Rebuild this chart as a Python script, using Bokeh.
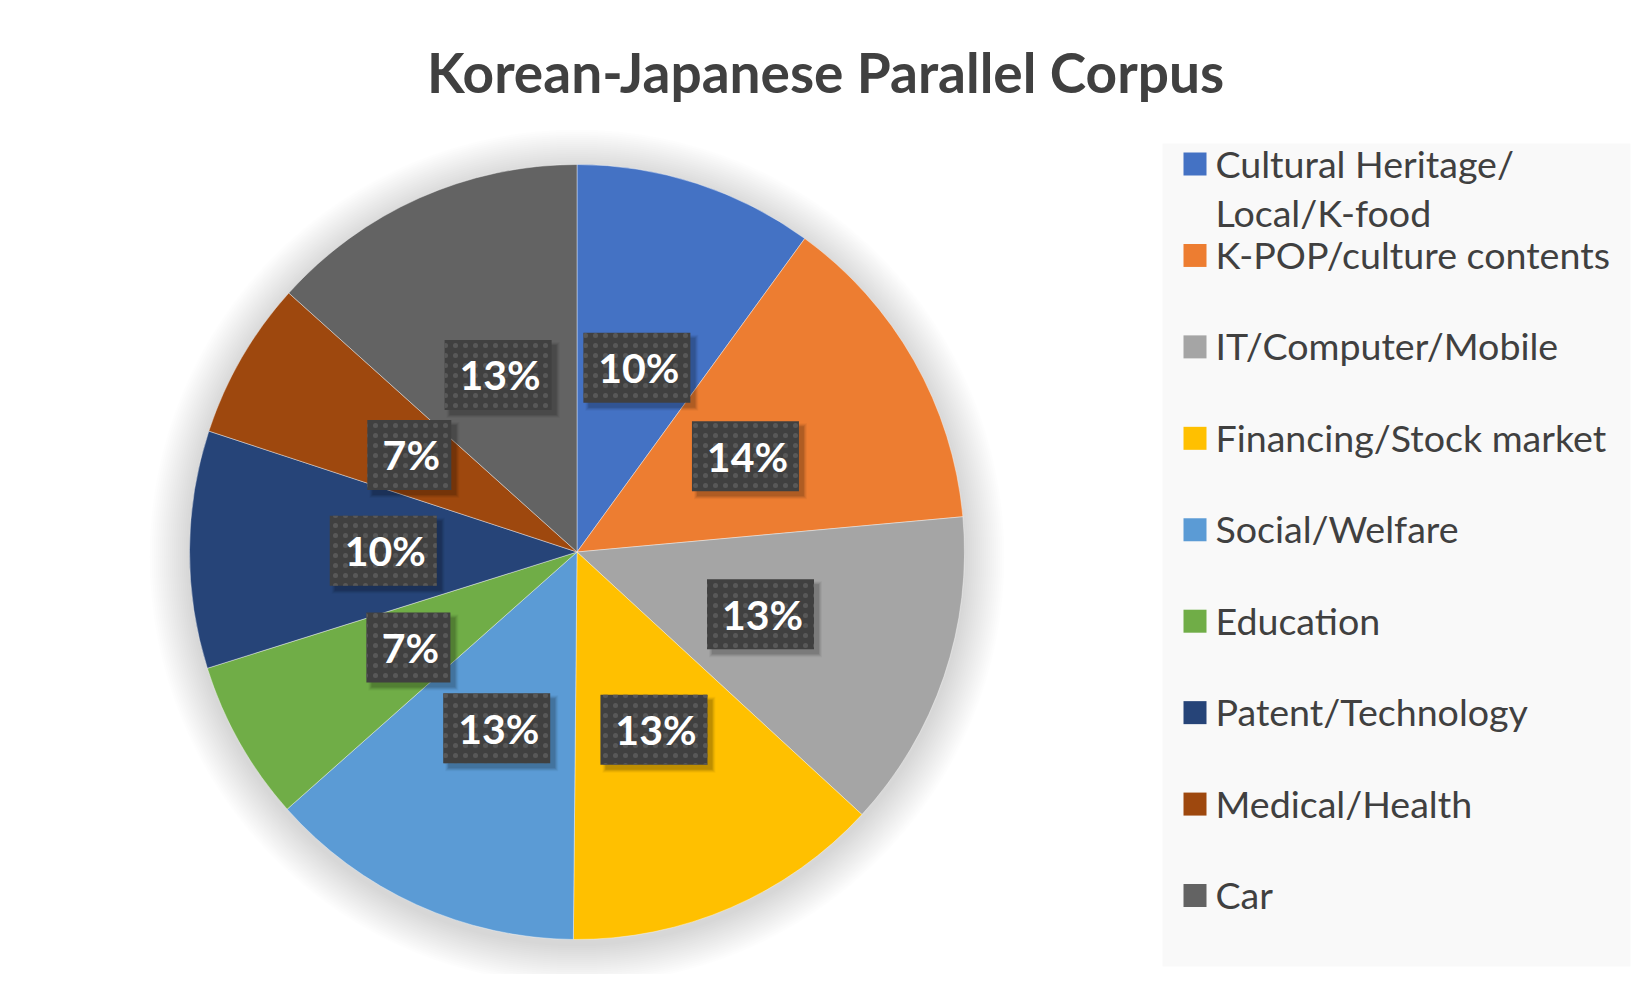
import numpy as np
from bokeh.plotting import figure
from bokeh.models import Range1d, ColumnDataSource
from bokeh.core.properties import value
from bokeh.embed import file_html
from bokeh.resources import INLINE

# ---- data ----
title_text = "Korean-Japanese Parallel Corpus"
categories = ["Cultural Heritage/Local/K-food", "K-POP/culture contents", "IT/Computer/Mobile",
              "Financing/Stock market", "Social/Welfare", "Education", "Patent/Technology",
              "Medical/Health", "Car"]
legend_labels = ["Cultural Heritage/\nLocal/K-food", "K-POP/culture contents", "IT/Computer/Mobile",
                 "Financing/Stock market", "Social/Welfare", "Education", "Patent/Technology",
                 "Medical/Health", "Car"]
shares = [10.0, 13.55, 13.3, 13.3, 13.3, 6.7, 9.9, 6.6, 13.35]
colors = ["#4472C4", "#ED7D31", "#A5A5A5", "#FFC000", "#5B9BD5", "#70AD47", "#264478", "#9E480E", "#636363"]

W, H = 1634, 974
FONT = "Lato"
TXT = "#404040"
BL = 0.37  # baseline correction factor (em)


def Y(y):
    return H - y


p = figure(width=W, height=H, x_range=Range1d(0, W), y_range=Range1d(0, H),
           output_backend="svg", toolbar_location=None, min_border=0,
           x_axis_location=None, y_axis_location=None)
p.grid.visible = False
p.outline_line_color = None
p.background_fill_color = "white"
p.border_fill_color = "white"

# ---- pie geometry ----
cx, cy, R = 576.5, Y(551.5), 387.5
vals = np.array(shares, dtype=float)
frac = vals / vals.sum()
cum = np.concatenate([[0.0], np.cumsum(frac)])
start = np.pi / 2 - 2 * np.pi * cum[:-1]
end = np.pi / 2 - 2 * np.pi * cum[1:]
mid = (cum[:-1] + cum[1:]) * np.pi
pct = [f"{int(np.floor(f * 100 + 0.5))}%" for f in frac]

# soft shadow around the pie
for k in range(1, 21):
    p.circle(x=cx, y=cy - 5, radius=R + 2 * k, fill_color="black", fill_alpha=0.007, line_color=None)

src = ColumnDataSource(dict(cat=categories, start=start, end=end, color=colors))
p.wedge(x=cx, y=cy, radius=R, start_angle="start", end_angle="end", direction="clock",
        fill_color="color", line_color="white", line_width=0.8, line_alpha=0.5, source=src)

# ---- data labels ----
lx = cx + 0.5 * R * np.sin(mid)
ly = cy + 0.5 * R * np.cos(mid)
bw = np.array([38 + 23 * len(t) for t in pct], dtype=float)
bh = 70.0
for k, a in enumerate([0.10, 0.08, 0.06, 0.04]):
    p.rect(x=lx + 5, y=ly - 5, width=bw + 2 * k, height=bh + 2 * k,
           fill_color="black", fill_alpha=a, line_color=None)
lab_fs = 41
lab = ColumnDataSource(dict(x=lx, y=ly, w=bw, t=pct, tx=lx + 2, ty=ly - 15 + BL * lab_fs))
p.rect(x="x", y="y", width="w", height=bh, fill_color="#404040", line_color=None,
       hatch_pattern="dot", hatch_color="#585858", hatch_scale=10, hatch_weight=3, source=lab)
p.text(x="tx", y="ty", text="t", text_align="center", text_baseline="alphabetic",
       text_font=value(FONT), text_font_style="bold", text_font_size=f"{lab_fs}px",
       text_color="white", source=lab)

# ---- title ----
t_fs = 55
p.text(x=[825], y=[Y(92) + BL * t_fs], text=[title_text], text_align="center", text_baseline="alphabetic",
       text_font=value(FONT), text_font_style="bold", text_font_size=f"{t_fs}px", text_color=TXT)

# ---- legend ----
p.quad(left=1162, right=1630, top=Y(143), bottom=Y(966), fill_color="#f9f9f9", line_color=None)
step = 91.44
sq_y = [Y(163.5 + i * step) for i in range(len(categories))]
p.rect(x=[1194.5] * len(categories), y=sq_y, width=23, height=23, fill_color=colors, line_color=None)
l_fs = 37.6
tx, ty, tt = [], [], []
for i, lbl in enumerate(legend_labels):
    for j, line in enumerate(lbl.split("\n")):
        tx.append(1215)
        ty.append(Y(163.5 + i * step + 13 + j * 49) + BL * l_fs)
        tt.append(line)
p.text(x=tx, y=ty, text=tt, text_align="left", text_baseline="alphabetic",
       text_font=value(FONT), text_font_size=f"{l_fs}px", text_color=TXT)

open("out.html", "w").write(file_html(p, INLINE))
